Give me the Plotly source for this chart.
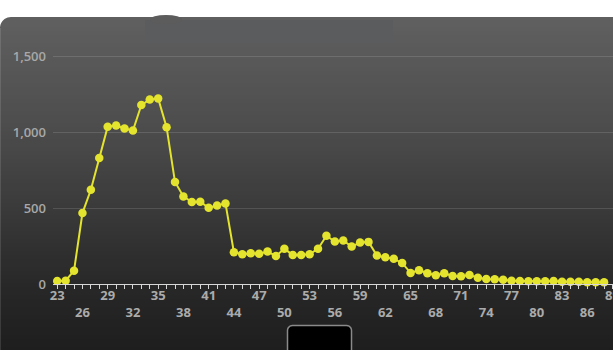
import plotly.graph_objects as go
import math

# ---- data ----
ages = list(range(23, 89))
counts = [20, 22, 88, 468, 622, 832, 1038, 1046, 1026, 1013, 1181, 1218, 1225, 1035,
          673, 578, 541, 543, 503, 518, 532, 210, 197, 203, 199, 214, 185, 232, 192,
          192, 197, 232, 318, 280, 287, 247, 274, 278, 188, 177, 166, 139, 73, 90,
          71, 58, 71, 53, 51, 60, 42, 33, 31, 28, 22, 20, 18, 18, 18, 20, 15, 15,
          15, 11, 11, 11]
tick_vals = list(range(23, 90, 3))
y_ticks = [0, 500, 1000, 1500]
y_tick_text = ["0", "500", "1,000", "1,500"]

W, H = 613, 350
ML, MR, MT, MB = 53, 0, 34, 66
plot_h = H - MT - MB
plot_w = W - ML - MR

def py(p):  # pixel y -> paper y
    return (H - MB - p) / plot_h

def px(p):  # pixel x -> paper x
    return (p - ML) / plot_w

shapes = []
# gradient panel
stops = [(17, (96, 96, 96)), (130, (76, 76, 76)), (200, (60, 60, 60)),
         (284, (40, 40, 40)), (350, (30, 30, 30))]

def col(p):
    for (a, ca), (b, cb) in zip(stops, stops[1:]):
        if a <= p <= b:
            t = (p - a) / (b - a)
            c = [round(ca[i] + (cb[i] - ca[i]) * t) for i in range(3)]
            return "rgb(%d,%d,%d)" % tuple(c)
    return "rgb(30,30,30)"

band = 4
y0 = 27
while y0 < H:
    y1 = min(H, y0 + band)
    shapes.append(dict(type="rect", xref="paper", yref="paper", layer="below",
                       x0=px(0), x1=px(W + 2), y0=py(y1 + 0.5), y1=py(y0),
                       fillcolor=col((y0 + y1) / 2), line=dict(width=0)))
    y0 = y1
# top strip with rounded top-left corner
r = 11
pts = []
for i in range(0, 11):
    a = math.pi + (math.pi / 2) * i / 10
    pts.append((r + r * math.cos(a), 17 + r + r * math.sin(a)))
pts += [(W + 2, 17), (W + 2, 27.5), (0, 27.5)]
path = "M " + " L ".join("%.5f,%.5f" % (px(x), py(y)) for x, y in pts) + " Z"
shapes.append(dict(type="path", xref="paper", yref="paper", layer="below",
                   path=path, fillcolor=col(20), line=dict(width=0)))
# subtle left edge
shapes.append(dict(type="line", xref="paper", yref="paper", layer="below",
                   x0=px(0.5), x1=px(0.5), y0=py(H), y1=py(28),
                   line=dict(color="rgba(255,255,255,0.12)", width=1)))
# blurred title block
shapes.append(dict(type="rect", xref="paper", yref="paper", layer="below",
                   x0=px(145), x1=px(393), y0=py(43), y1=py(20),
                   fillcolor="rgb(91,92,94)", line=dict(width=0)))
shapes.append(dict(type="circle", xref="paper", yref="paper", layer="below",
                   x0=px(150), x1=px(182), y0=py(24), y1=py(15),
                   fillcolor="rgb(92,92,92)", line=dict(width=0)))
# black button at bottom
br = 5
bx0, bx1, by0, by1 = 287.5, 351.5, 325.5, 360
bpts = []
for i in range(0, 7):
    a = math.pi + (math.pi / 2) * i / 6
    bpts.append((bx0 + br + br * math.cos(a), by0 + br + br * math.sin(a)))
for i in range(0, 7):
    a = 1.5 * math.pi + (math.pi / 2) * i / 6
    bpts.append((bx1 - br + br * math.cos(a), by0 + br + br * math.sin(a)))
bpts += [(bx1, by1), (bx0, by1)]
bpath = "M " + " L ".join("%.5f,%.5f" % (px(x), py(y)) for x, y in bpts) + " Z"
shapes.append(dict(type="path", xref="paper", yref="paper", layer="above",
                   path=bpath, fillcolor="#000000",
                   line=dict(color="#8a8a8a", width=1.5)))

tick_text = []
for i, v in enumerate(tick_vals):
    tick_text.append(str(v) if i % 2 == 0 else "<br>" + str(v))

fig = go.Figure()
fig.add_trace(go.Scatter(
    x=ages, y=counts, mode="lines+markers",
    line=dict(color="#e4e42e", width=2),
    marker=dict(color="#e4e42e", size=8.5, line=dict(width=0)),
    cliponaxis=False, hoverinfo="skip", showlegend=False))

fig.update_layout(
    width=W, height=H,
    margin=dict(l=ML, r=MR, t=MT, b=MB, pad=0, autoexpand=False),
    paper_bgcolor="#ffffff",
    plot_bgcolor="rgba(0,0,0,0)",
    shapes=shapes,
    xaxis=dict(
        range=[22.5, 89.06], tickmode="array", tickvals=tick_vals, ticktext=tick_text,
        showgrid=False, zeroline=False, showline=True, linecolor="#d8d8d8", linewidth=1,
        ticks="outside", ticklen=4, tickcolor="#d8d8d8", tickwidth=1,
        minor=dict(dtick=1, tick0=23, ticks="outside", ticklen=4, tickcolor="#d8d8d8", tickwidth=1),
        tickfont=dict(family="Open Sans", size=13, color="#ababab", weight=700),
        ticklabeloverflow="allow", ticklabelstandoff=-5, automargin=False,
        fixedrange=True),
    yaxis=dict(
        range=[0, 1650], tickmode="array", tickvals=y_ticks, ticktext=y_tick_text,
        showgrid=True, gridcolor="rgba(255,255,255,0.13)", gridwidth=1,
        zeroline=False, showline=False, ticks="",
        ticklabelstandoff=6, automargin=False,
        tickfont=dict(family="Open Sans", size=13, color="#a8a8a8", weight=600),
        fixedrange=True),
)

fig.write_html("out.html", config={"displayModeBar": False})
